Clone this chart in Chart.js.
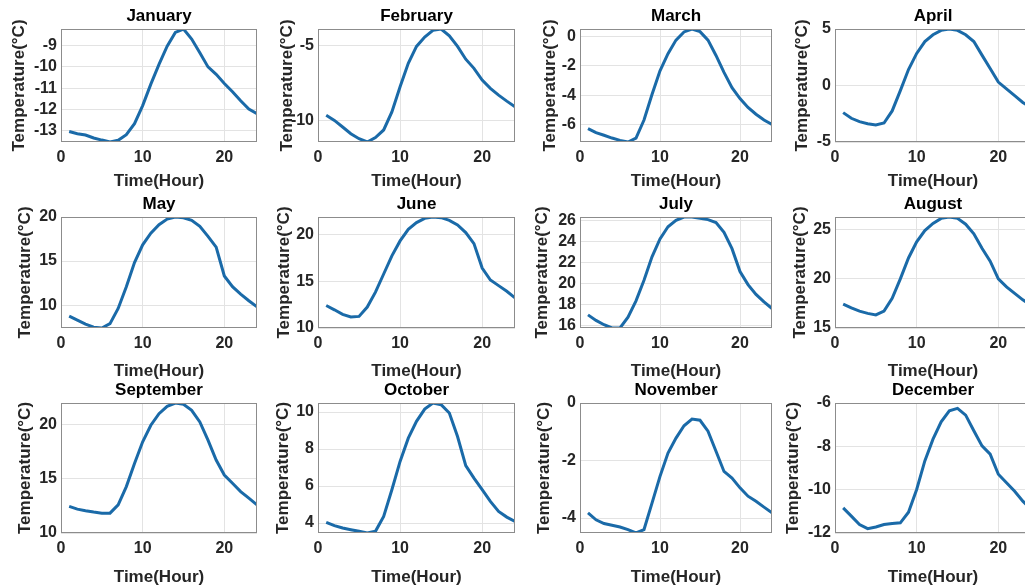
<!DOCTYPE html>
<html>
<head>
<meta charset="utf-8">
<title>Hourly temperature by month</title>
<script src="https://cdn.jsdelivr.net/npm/chart.js@4.4.1/dist/chart.umd.min.js"></script>
<style>
  html, body { margin: 0; padding: 0; background: #fff; overflow: hidden; }
  #grid { position: relative; width: 1025px; height: 587px; overflow: hidden; }
  #grid canvas { position: absolute; }
</style>
</head>
<body>
<div id="grid"></div>
<script>
// --- Data ---
const months = ['January', 'February', 'March', 'April', 'May', 'June',
  'July', 'August', 'September', 'October', 'November', 'December'];
const hours = [1, 2, 3, 4, 5, 6, 7, 8, 9, 10, 11, 12, 13, 14, 15, 16, 17, 18, 19, 20, 21, 22, 23, 24];

const janTemps = [-13.04, -13.14, -13.2, -13.34, -13.44, -13.53, -13.45, -13.19, -12.67, -11.82, -10.81, -9.88,
  -9.03, -8.38, -8.22, -8.69, -9.34, -10.0, -10.35, -10.78, -11.17, -11.59, -11.98, -12.2];
const febTemps = [-9.62, -9.96, -10.4, -10.85, -11.18, -11.4, -11.1, -10.6, -9.4, -7.72, -6.16, -5.04,
  -4.42, -3.97, -3.88, -4.33, -5.04, -5.89, -6.5, -7.28, -7.83, -8.28, -8.68, -9.06];
const marTemps = [-6.28, -6.56, -6.74, -6.93, -7.09, -7.2, -6.93, -5.7, -3.95, -2.33, -1.16, -0.23,
  0.33, 0.53, 0.35, -0.23, -1.28, -2.44, -3.49, -4.23, -4.84, -5.3, -5.7, -6.0];
const aprTemps = [-2.4, -2.9, -3.2, -3.38, -3.5, -3.32, -2.25, -0.45, 1.41, 2.84, 3.89, 4.49,
  4.88, 5.0, 4.88, 4.49, 3.89, 2.69, 1.5, 0.3, -0.3, -0.9, -1.5, -1.95];
const mayTemps = [8.75, 8.29, 7.83, 7.5, 7.4, 7.9, 9.62, 12.09, 14.83, 16.84, 18.17, 19.13,
  19.77, 20.0, 19.92, 19.62, 18.94, 17.8, 16.58, 13.3, 12.09, 11.25, 10.49, 9.81];
const junTemps = [12.4, 11.94, 11.45, 11.17, 11.24, 12.23, 13.82, 15.76, 17.7, 19.29, 20.53, 21.24,
  21.7, 21.84, 21.77, 21.48, 20.99, 20.18, 19.0, 16.4, 15.12, 14.52, 13.92, 13.22];
const julTemps = [17.0, 16.47, 16.06, 15.75, 15.75, 16.78, 18.33, 20.29, 22.52, 24.23, 25.38, 26.0,
  26.31, 26.31, 26.19, 26.06, 25.78, 24.85, 23.3, 21.12, 19.88, 18.95, 18.24, 17.6];
const augTemps = [17.44, 17.05, 16.72, 16.49, 16.33, 16.72, 18.03, 20.0, 22.13, 23.77, 24.92, 25.64,
  26.16, 26.3, 26.16, 25.57, 24.59, 23.11, 21.8, 20.0, 19.18, 18.52, 17.87, 17.3];
const sepTemps = [12.45, 12.2, 12.05, 11.93, 11.83, 11.83, 12.6, 14.28, 16.42, 18.41, 19.94, 21.0,
  21.68, 21.99, 21.87, 21.31, 20.24, 18.56, 16.73, 15.35, 14.59, 13.82, 13.21, 12.6];
const octTemps = [4.04, 3.86, 3.73, 3.64, 3.55, 3.46, 3.55, 4.36, 5.8, 7.33, 8.59, 9.5,
  10.16, 10.49, 10.4, 9.95, 8.68, 7.1, 6.43, 5.8, 5.17, 4.63, 4.32, 4.09];
const novTemps = [-3.82, -4.06, -4.19, -4.25, -4.31, -4.4, -4.52, -4.4, -3.48, -2.55, -1.74, -1.22,
  -0.79, -0.56, -0.6, -0.98, -1.68, -2.38, -2.61, -2.95, -3.24, -3.42, -3.62, -3.82];
const decTemps = [-10.84, -11.22, -11.61, -11.8, -11.72, -11.61, -11.56, -11.53, -11.04, -9.99, -8.67, -7.67,
  -6.87, -6.36, -6.25, -6.56, -7.28, -7.98, -8.36, -9.29, -9.68, -10.07, -10.53, -10.9];

const yMins = [-13.53, -11.4, -7.2, -5, 7.4, 10, 15.75, 15, 10, 3.46, -4.52, -12];
const yMaxs = [-8.22, -3.88, 0.53, 5, 20, 21.84, 26.31, 26.3, 21.99, 10.49, 0, -6];
const yTickValues = [
  [-13, -12, -11, -10, -9], [-10, -5], [-6, -4, -2, 0], [-5, 0, 5],
  [10, 15, 20], [10, 15, 20], [16, 18, 20, 22, 24, 26], [15, 20, 25],
  [10, 15, 20], [4, 6, 8, 10], [-4, -2, 0], [-12, -10, -8, -6]
];
const xTickValues = [0, 10, 20];
const xMin = 0;
const xMax = 24;

const monthTemps = [janTemps, febTemps, marTemps, aprTemps, mayTemps, junTemps,
  julTemps, augTemps, sepTemps, octTemps, novTemps, decTemps];

// --- Layout (pixel positions of each plot box) ---
const colLeft = [61, 318, 580, 835];
const colWidth = [196, 197, 192, 196];
const rowTop = [29, 217, 403];
const rowBottom = [142, 328, 533];
const titleMid = [16, 204, 390];
const xLabelMid = [181, 371, 577];
const yLabelMid = [19, 287, 550, 802, 25, 284, 542, 800, 25, 283, 544, 793];

const FONT = '"Liberation Sans", Arial, Helvetica, sans-serif';
const LINE_COLOR = '#1a6aa8';
const AXIS_TEXT = '#262626';

// draws the full box around the plot area, like MATLAB's "box on"
const plotBox = {
  id: 'plotBox',
  afterDatasetsDraw(chart) {
    const { ctx, chartArea: a } = chart;
    ctx.save();
    ctx.strokeStyle = '#8c8c8c';
    ctx.lineWidth = 1;
    ctx.strokeRect(Math.round(a.left) + 0.5, Math.round(a.top) + 0.5,
      Math.round(a.right - a.left) - 1, Math.round(a.bottom - a.top) - 1);
    ctx.restore();
  }
};

const grid = document.getElementById('grid');

months.forEach((month, i) => {
  const r = Math.floor(i / 4);
  const c = i % 4;

  const canvasLeft = yLabelMid[i] - 10;
  const canvasTop = titleMid[r] - 10;
  const canvasBottom = xLabelMid[r] + 10;
  const canvasRight = colLeft[c] + colWidth[c] + 10;
  const yAxisWidth = colLeft[c] - canvasLeft;
  const xAxisHeight = canvasBottom - rowBottom[r];
  const titleGap = rowTop[r] - canvasTop - 20;

  const canvas = document.createElement('canvas');
  canvas.width = canvasRight - canvasLeft;
  canvas.height = canvasBottom - canvasTop;
  canvas.style.left = canvasLeft + 'px';
  canvas.style.top = canvasTop + 'px';
  canvas.style.width = canvas.width + 'px';
  canvas.style.height = canvas.height + 'px';
  grid.appendChild(canvas);

  const points = hours.map((h, k) => ({ x: h, y: monthTemps[i][k] }));

  new Chart(canvas.getContext('2d'), {
    type: 'line',
    data: {
      datasets: [{
        label: month,
        data: points,
        borderColor: LINE_COLOR,
        borderWidth: 3,
        pointRadius: 0,
        tension: 0,
        fill: false
      }]
    },
    options: {
      responsive: false,
      animation: false,
      devicePixelRatio: 1,
      layout: { padding: { left: 0, top: 0, bottom: 0, right: 10 } },
      plugins: {
        legend: { display: false },
        tooltip: { enabled: false },
        title: {
          display: true,
          text: month,
          fullSize: false,
          color: '#000',
          font: { family: FONT, size: 17, weight: 'bold', lineHeight: '20px' },
          padding: { top: 0, bottom: titleGap }
        }
      },
      scales: {
        x: {
          type: 'linear',
          min: xMin,
          max: xMax,
          afterBuildTicks: s => { s.ticks = xTickValues.map(v => ({ value: v })); },
          afterFit: s => { s.height = xAxisHeight; },
          grid: { color: '#e3e3e3', drawTicks: false },
          border: { display: false },
          ticks: { color: AXIS_TEXT, padding: 6, maxRotation: 0,
            font: { family: FONT, size: 16, weight: 'bold' } },
          title: {
            display: true, text: 'Time(Hour)', color: AXIS_TEXT, padding: 0,
            font: { family: FONT, size: 17, weight: 'bold', lineHeight: '20px' }
          }
        },
        y: {
          type: 'linear',
          min: yMins[i],
          max: yMaxs[i],
          afterBuildTicks: s => { s.ticks = yTickValues[i].map(v => ({ value: v })); },
          afterFit: s => { s.width = yAxisWidth; },
          grid: { color: '#e3e3e3', drawTicks: false },
          border: { display: false },
          ticks: { color: AXIS_TEXT, padding: 4,
            font: { family: FONT, size: 16, weight: 'bold' } },
          title: {
            display: true, text: 'Temperature(°C)', color: AXIS_TEXT, padding: 0,
            font: { family: FONT, size: 17, weight: 'bold', lineHeight: '20px' }
          }
        }
      }
    },
    plugins: [plotBox]
  });
});
</script>
</body>
</html>
